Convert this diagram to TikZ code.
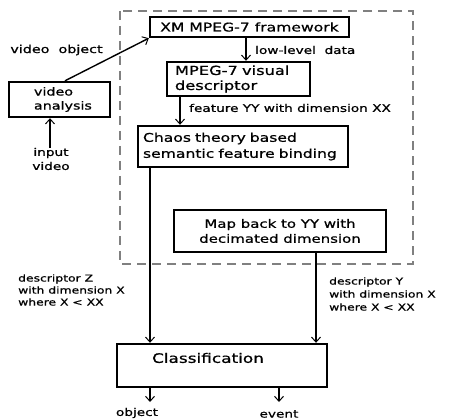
\documentclass[tikz,border=0pt]{standalone}
\usepackage{fontspec}
\setmainfont{DejaVu Sans}[FakeStretch=1.3,FakeBold=0.8]
\usetikzlibrary{arrows.meta}
\begin{document}
\begin{tikzpicture}[x=1pt,y=-1pt,
  box/.style={draw,line width=2.4pt,inner sep=0pt,minimum height=#1,font=\fontsize{12}{16}\selectfont},
  lbl/.style={inner sep=0pt,font=\fontsize{10.5}{12}\selectfont},
  arr/.style={line width=1.4pt,-{Straight Barb[length=5pt,width=9pt,line width=1pt]}}]
\useasboundingbox (0,0) rectangle (449,419);
\draw[gray,line width=1.2pt,dash pattern=on 9pt off 6pt] (120,11) rectangle (413,264);
\node[box=20pt,minimum width=199pt] (xm) at (249.5,27) {XM MPEG-7 framework};
\node[box=34pt,inner xsep=8pt,text width=127pt,align=left,font=\fontsize{12.5}{15}\selectfont] (vis) at (238.5,79) {MPEG-7 visual\\descriptor};
\node[box=41pt,inner xsep=5pt,text width=200pt,align=left,font=\fontsize{12}{16}\selectfont] (chaos) at (243,146.5) {Chaos theory based\\semantic feature binding};
\node[box=42pt,minimum width=212pt,align=center,font=\fontsize{11.5}{15}\selectfont] (map) at (280,231) {Map back to YY with\\decimated dimension};
\node[box=43pt,minimum width=210pt] (cls) at (222,365.5) {};
\node[inner sep=0pt,font=\fontsize{13}{15}\selectfont] (clst) at (208,358) {Classification};
\node[box=35pt,inner xsep=25pt,text width=51pt,align=left,font=\fontsize{11}{14}\selectfont] (va) at (59.5,99.5) {video\\analysis};
\node[lbl,align=center,font=\fontsize{10.5}{14}\selectfont] (iv) at (51,159) {input\\video};
\node[lbl,font=\fontsize{11}{13}\selectfont] (vo) at (56.5,50) {video\ \ object};
\node[lbl,anchor=west] (lld) at (255,50) {low-level\ \ data};
\node[lbl,anchor=west] (fyy) at (189,108) {feature YY with dimension XX};
\node[lbl,anchor=west,align=left,font=\fontsize{9.5}{12}\selectfont] (dz) at (18,290) {descriptor Z\\with dimension X\\where X < XX};
\node[lbl,anchor=west,align=left,font=\fontsize{9.5}{13}\selectfont] (dy) at (329,294) {descriptor Y\\with dimension X\\where X < XX};
\node[lbl] (obj) at (137,413) {object};
\node[lbl] (evt) at (279,414) {event};
\coordinate (oe) at (150,402);
\coordinate (ee) at (279,402);
\draw[arr] ([xshift=-3.5pt]xm.south) -- ([xshift=7.5pt]vis.north);
\draw[arr] ([xshift=-58.5pt]vis.south) -- ([xshift=-63pt]chaos.north);
\draw[arr] ([xshift=-93pt]chaos.south) -- ([xshift=-72pt]cls.north);
\draw[arr] ([xshift=36pt]map.south) -- ([xshift=94pt]cls.north);
\draw[arr] ([xshift=5.5pt]va.north) -- (xm.south west);
\draw[arr] ([xshift=-1pt]iv.north) -- ([xshift=-9.5pt]va.south);
\draw[arr] (cls.south -| oe) -- (oe);
\draw[arr] (cls.south -| ee) -- (ee);
\end{tikzpicture}
\end{document}
